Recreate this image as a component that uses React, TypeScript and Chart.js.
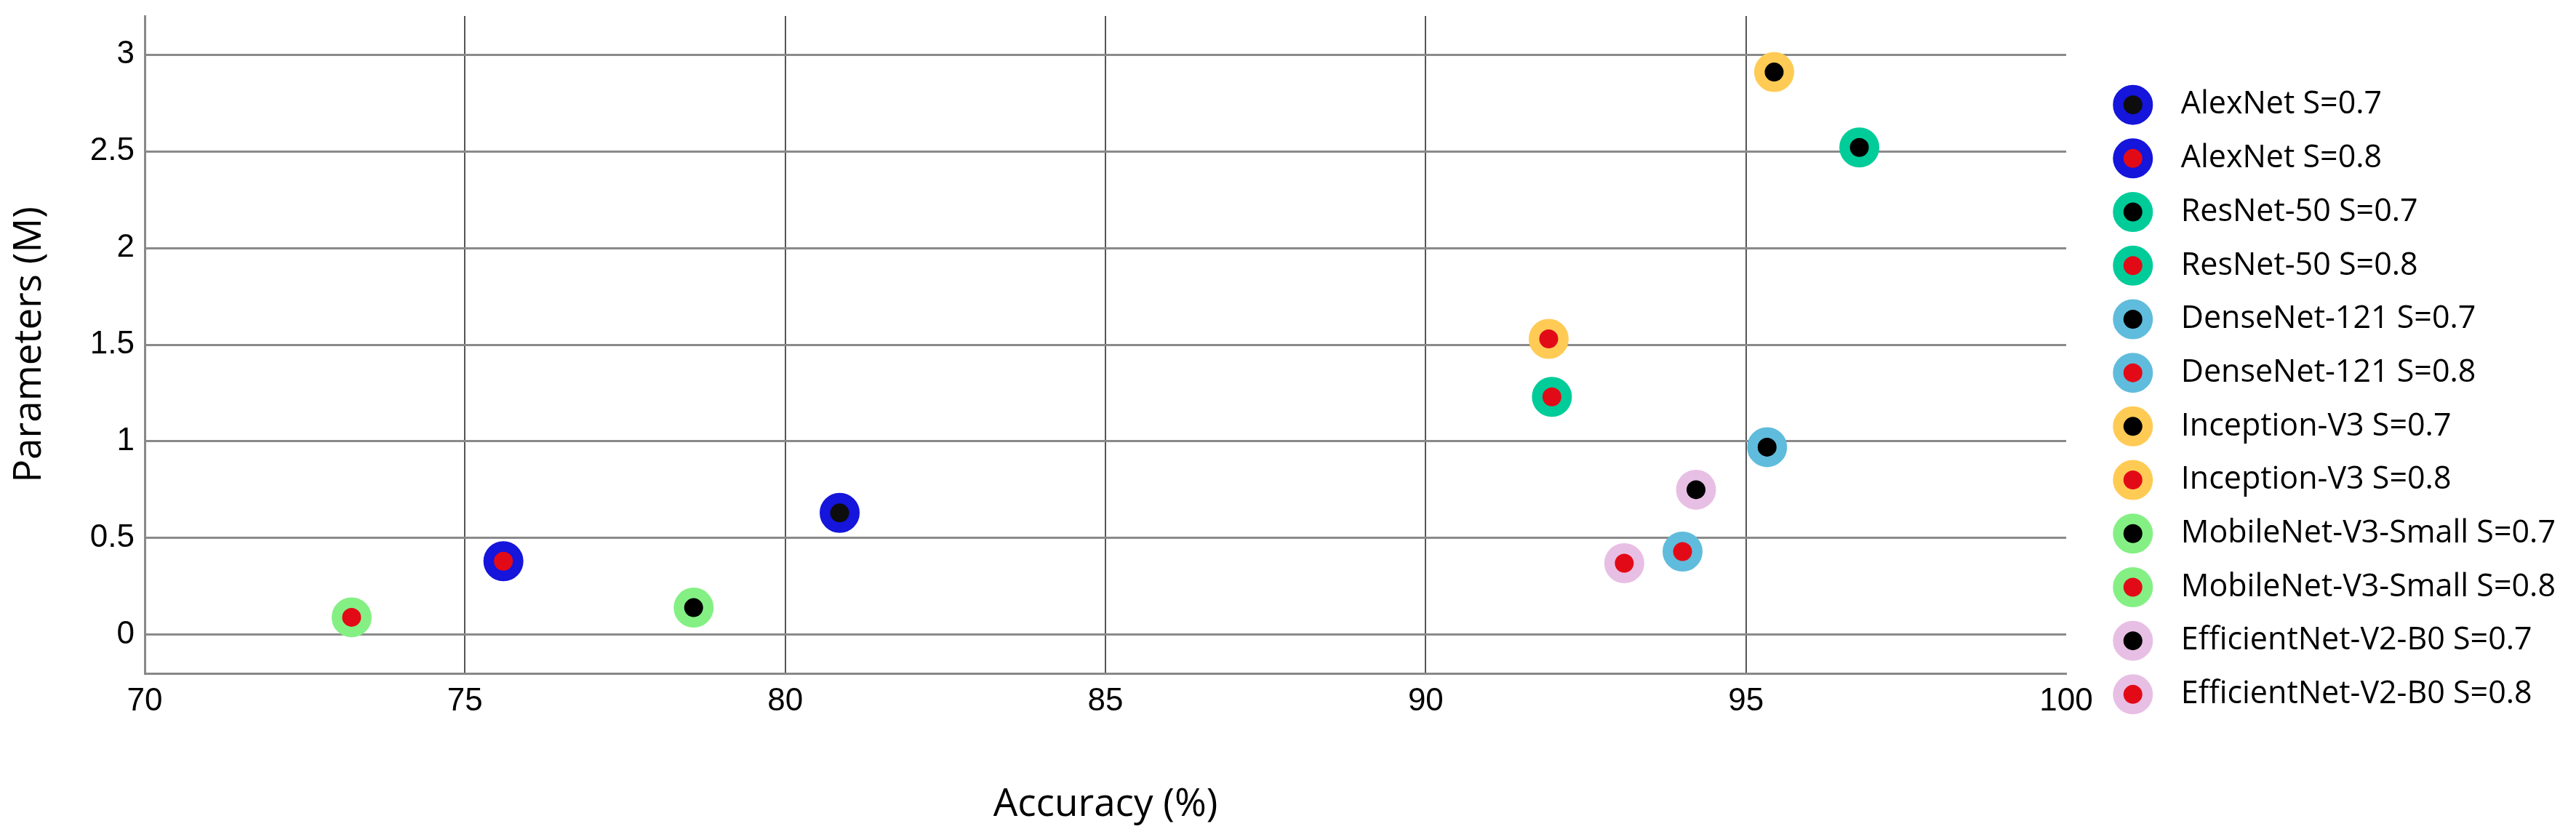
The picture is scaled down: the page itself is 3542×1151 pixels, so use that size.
import React, { useEffect, useRef } from 'react';
import { Chart, registerables } from 'chart.js';

Chart.register(...registerables);

const seriesLabels = [
  'AlexNet S=0.7',
  'AlexNet S=0.8',
  'ResNet-50 S=0.7',
  'ResNet-50 S=0.8',
  'DenseNet-121 S=0.7',
  'DenseNet-121 S=0.8',
  'Inception-V3 S=0.7',
  'Inception-V3 S=0.8',
  'MobileNet-V3-Small S=0.7',
  'MobileNet-V3-Small S=0.8',
  'EfficientNet-V2-B0 S=0.7',
  'EfficientNet-V2-B0 S=0.8',
];
const accuracyValues = [80.85, 75.6, 96.77, 91.97, 95.33, 94.01, 95.44, 91.92, 78.57, 73.23, 94.22, 93.1];
const parameterValues = [0.63, 0.38, 2.52, 1.23, 0.97, 0.43, 2.91, 1.53, 0.14, 0.09, 0.75, 0.37];
const xTickValues = [70, 75, 80, 85, 90, 95, 100];
const yTickValues = [0, 0.5, 1, 1.5, 2, 2.5, 3];

const ringColors = [
  '#1515db', '#1515db',
  '#00cc99', '#00cc99',
  '#60bcdc', '#60bcdc',
  '#ffcb55', '#ffcb55',
  '#84f084', '#84f084',
  '#e8bfe4', '#e8bfe4',
];
const coreColors = [
  '#0d0d0d', '#e30a17',
  '#000000', '#e30a17',
  '#000000', '#e30a17',
  '#000000', '#e30a17',
  '#000000', '#e30a17',
  '#000000', '#e30a17',
];

export default function App() {
  const ref = useRef<HTMLCanvasElement>(null);
  useEffect(() => {
    document.body.style.margin = '0';
    document.body.style.overflow = 'hidden';
    const tickFont = { family: "'Liberation Sans'", size: 44 };
    const titleFont = { family: "'Open Sans'", size: 53 };
    const chart = new Chart(ref.current as HTMLCanvasElement, {
      type: 'scatter',
      data: {
        datasets: seriesLabels.map((label, i) => ({
          label,
          data: [{ x: accuracyValues[i], y: parameterValues[i] }],
          backgroundColor: coreColors[i],
          borderColor: ringColors[i],
          pointRadius: 20.25,
          pointHoverRadius: 20.25,
          pointBorderWidth: 14.5,
          pointHoverBorderWidth: 14.5,
        })),
      },
      options: {
        animation: false,
        responsive: false,
        devicePixelRatio: 1,
        layout: { autoPadding: false, padding: { top: 22, bottom: 74, left: 0, right: 18 } },
        plugins: {
          tooltip: { enabled: false },
          legend: {
            position: 'right',
            align: 'center',
            maxWidth: 2000,
            labels: {
              usePointStyle: true,
              pointStyle: 'circle',
              boxWidth: 22,
              boxHeight: 28.64,
              padding: 30.7,
              color: '#000',
              font: { family: "'Open Sans'", size: 43 },
              generateLabels: (c: any) =>
                (Chart.defaults.plugins.legend.labels as any)
                  .generateLabels(c)
                  .map((l: any) => ({ ...l, text: '   ' + l.text })),
            },
          },
        },
        scales: {
          x: {
            type: 'linear',
            min: 70,
            max: 100,
            afterBuildTicks: (s: any) => {
              s.ticks = xTickValues.map((v) => ({ value: v }));
            },
            afterFit: (s: any) => {
              s.height = 151;
              s.paddingLeft = 0;
              s.paddingRight = 0;
            },
            grid: {
              color: (ctx: any) => (ctx.tick && ctx.tick.value === 100 ? 'rgba(0,0,0,0)' : '#555'),
              lineWidth: 2,
              drawTicks: false,
            },
            border: { display: true, color: '#888', width: 3 },
            ticks: { padding: 12, color: '#000', font: tickFont, callback: (v: any) => String(v) },
            title: {
              display: true,
              text: 'Accuracy (%)',
              color: '#000',
              font: titleFont,
              padding: { top: 0, bottom: -62 },
            },
          },
          y: {
            type: 'linear',
            min: -0.2,
            max: 3.2,
            afterBuildTicks: (s: any) => {
              s.ticks = yTickValues.map((v) => ({ value: v }));
            },
            afterFit: (s: any) => {
              s.width = 199;
              s.paddingTop = 0;
              s.paddingBottom = 0;
            },
            grid: { color: '#8a8a8a', lineWidth: 3, drawTicks: false },
            border: { display: true, color: '#888', width: 3 },
            ticks: { padding: 14, color: '#000', font: tickFont, callback: (v: any) => String(v) },
            title: {
              display: true,
              text: 'Parameters (M)',
              color: '#000',
              font: titleFont,
              padding: { top: 9, bottom: 0 },
            },
          },
          y2: {
            type: 'linear',
            position: 'right',
            display: true,
            grid: { display: false },
            border: { display: false },
            ticks: { display: false },
            afterFit: (s: any) => {
              s.width = 50;
              s.paddingTop = 0;
              s.paddingBottom = 0;
            },
          },
        },
      } as any,
    });
    return () => chart.destroy();
  }, []);
  return <canvas ref={ref} width={3542} height={1151} style={{ display: 'block' }} />;
}
